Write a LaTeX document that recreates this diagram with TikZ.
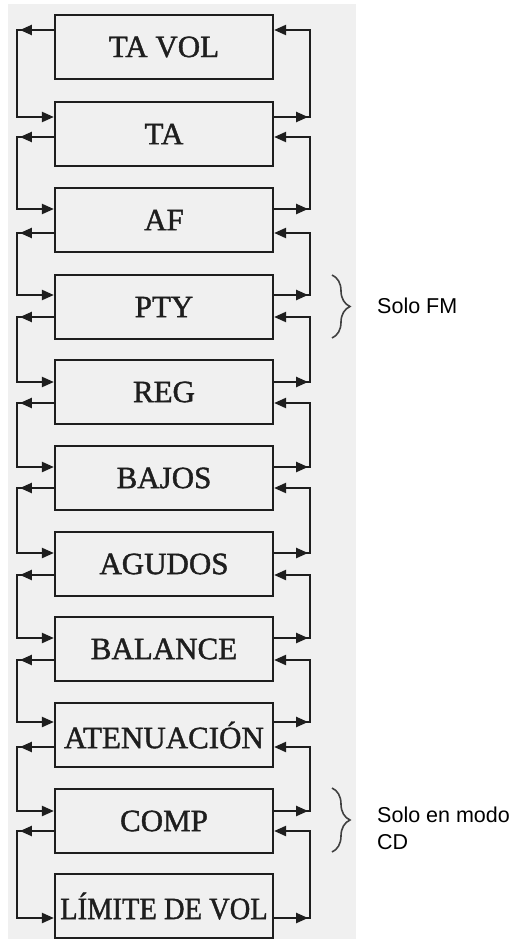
\documentclass[tikz,border=0pt]{standalone}
\usepackage{fontspec}
\usepackage{graphicx}
\setmainfont{Liberation Serif}
\newfontfamily\boxfont[FakeBold=1.3]{Liberation Serif}
\newfontfamily\sansf{Liberation Sans}
\usetikzlibrary{arrows.meta,decorations.markings,decorations.pathreplacing}
\definecolor{ink}{RGB}{30,30,30}
\definecolor{scan}{RGB}{240,240,240}
\tikzset{
  blk/.style={draw=ink, line width=2.2pt, minimum width=218pt, minimum height=64pt,
    inner sep=0pt, text=ink, font=\boxfont\fontsize{31}{31}\selectfont},
  tipA/.tip={Triangle[length=12pt,width=10pt]},
  conn/.style={draw=ink, line width=2.2pt, -tipA,
    postaction={decorate, decoration={markings, mark=at position 34pt with {\arrow[ink]{tipA}}}}},
  lbl/.style={inner sep=0pt, text=black, font=\sansf\fontsize{21.5}{27}\selectfont},
  brc/.style={draw=ink!85, line width=1.6pt, decorate, decoration={brace, amplitude=18pt}}
}
\begin{document}
\begin{tikzpicture}[x=1pt,y=-1pt]
\useasboundingbox (0,0) rectangle (516,939);
\fill[scan] (8,4) rectangle (356,939);
\node[blk] (b1) at (164,47) {TA VOL};
\node[blk] (b2) at (164,134) {TA};
\node[blk] (b3) at (164,220) {AF};
\node[blk] (b4) at (164,307) {PTY};
\node[blk] (b5) at (164,392) {REG};
\node[blk] (b6) at (164,478) {BAJOS};
\node[blk] (b7) at (164,564) {AGUDOS};
\node[blk] (b8) at (164,649) {BALANCE};
\node[blk] (b9) at (164,735) {ATENUACIÓN};
\node[blk] (b10) at (164,821) {COMP};
\node[blk] (b11) at (164,906) {\scalebox{0.92}[1]{LÍMITE DE VOL}};
\foreach \i/\j/\yo/\yi in {1/2/30/117, 2/3/137/209, 3/4/233/295, 4/5/317/382,
  5/6/403/467, 6/7/488/553, 7/8/575/638, 8/9/660/722, 9/10/747/811, 10/11/831/918}{
  \draw[conn] (b\i.west |- 0,\yo) -- (17,\yo) -- (17,\yi) -- (b\j.west |- 0,\yi);
  \draw[conn] (b\j.east |- 0,\yi) -- (310,\yi) -- (310,\yo) -- (b\i.east |- 0,\yo);
}
\draw[brc] (332,275) -- (332,338);
\draw[brc] (332,788) -- (332,852);
\node[lbl, anchor=base west] (fm) at (377,313) {Solo FM};
\node[lbl, anchor=north west, align=left] (cd) at (377,807) {Solo en modo\\CD};
\end{tikzpicture}
\end{document}
